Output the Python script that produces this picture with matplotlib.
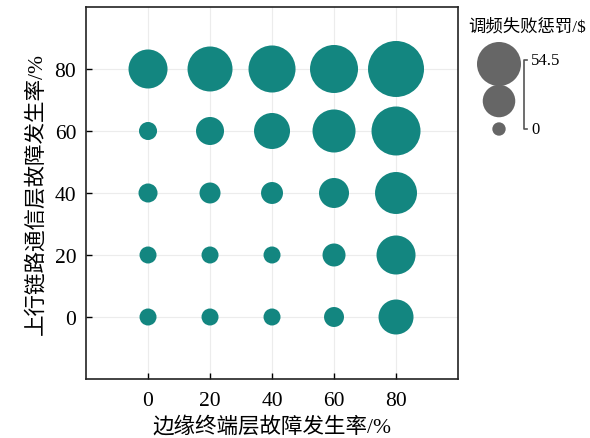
import numpy as np
from matplotlib import pyplot as plt

# failure rates (%) on both axes
edge_rate = [0, 20, 40, 60, 80]
uplink_rate = [0, 20, 40, 60, 80]

# frequency-modulation failure penalty ($), rows = uplink rate 0..80
penalty = [
    [0.0, 0.0, 0.0, 2.1, 17.9],
    [0.0, 0.0, 0.0, 4.6, 23.6],
    [1.4, 2.9, 3.7, 11.7, 28.2],
    [0.7, 9.5, 19.3, 29.9, 40.4],
    [23.6, 33.2, 36.8, 38.6, 54.5],
]

legend_values = [54.5, 27.25, 0.0]

DPI = 100
TEAL = '#138680'
FONT = ['Liberation Serif', 'Noto Sans CJK SC']


def bubble_size(v, vmax=54.5, dmin=17.0, dmax=56.0, scale=1.0):
    """area grows linearly with value, returns scatter size in pt^2"""
    v = np.asarray(v, dtype=float)
    d_px = np.sqrt(dmin**2 + (dmax**2 - dmin**2) * v / vmax) * scale
    return (d_px * 72.0 / DPI) ** 2


def main():
    plt.rcParams['font.family'] = FONT
    plt.rcParams['axes.unicode_minus'] = False

    fig = plt.figure(figsize=(5.9, 4.39), dpi=DPI)
    ax = fig.add_axes([0.1458, 0.1344, 0.6305, 0.8474])

    xx, yy = np.meshgrid(edge_rate, uplink_rate)
    ax.scatter(xx.ravel(), yy.ravel(), s=bubble_size(np.array(penalty).ravel()),
               color=TEAL, edgecolors='none', zorder=3)

    ax.set_xlim(-20, 100)
    ax.set_ylim(-20, 100)
    ax.set_xticks(edge_rate)
    ax.set_yticks(uplink_rate)
    ax.grid(True, color='#ececec', linewidth=0.8, zorder=0)
    ax.tick_params(direction='in', length=4, width=1, labelsize=15.5,
                   top=False, right=False)
    ax.tick_params(axis='x', pad=9)
    ax.tick_params(axis='y', pad=7)
    for sp in ax.spines.values():
        sp.set_linewidth(1.2)
        sp.set_color('#222222')
    ax.set_xlabel('边缘终端层故障发生率/%', fontsize=15.5, labelpad=4)
    ax.set_ylabel('上行链路通信层故障发生率/%', fontsize=15.5, labelpad=6)

    # bubble size legend
    lax = fig.add_axes([0, 0, 1, 1], facecolor='none')
    lax.set_xlim(0, 590)
    lax.set_ylim(439, 0)
    lax.axis('off')
    lax.scatter([499, 499, 499], [65, 102, 130],
                s=bubble_size(legend_values, scale=0.786),
                color='#666666', edgecolors='none')
    lax.plot([527, 524, 524, 527], [61, 61, 130, 130], color='#555555', lw=1.2)
    lax.text(531, 61, '54.5', fontsize=12, va='center', ha='left')
    lax.text(531, 130, '0', fontsize=12, va='center', ha='left')
    lax.text(527, 27, '调频失败惩罚/$', fontsize=12.5, va='center', ha='center')

    fig.savefig('out.png', dpi=DPI)


if __name__ == '__main__':
    main()
